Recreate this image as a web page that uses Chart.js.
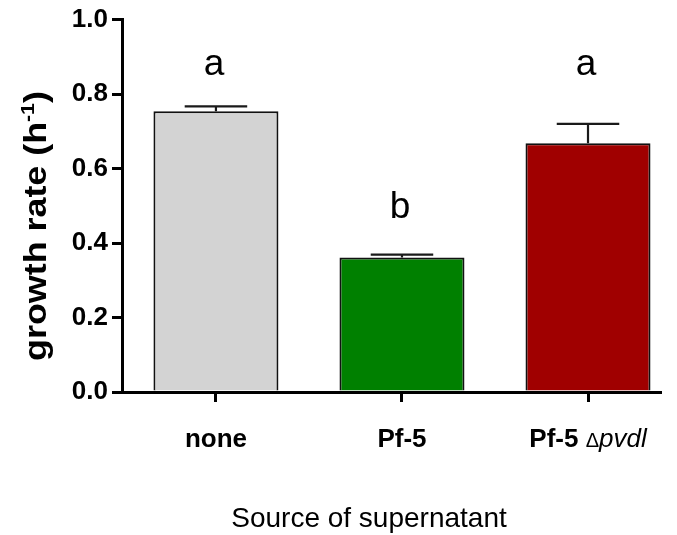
<!DOCTYPE html>
<html>
<head>
<meta charset="utf-8">
<script src="https://cdn.jsdelivr.net/npm/chart.js@4/dist/chart.umd.min.js"></script>
<style>
  html, body { margin: 0; padding: 0; background: #fff; }
  canvas { display: block; }
</style>
</head>
<body>
<canvas id="growthChart" width="677" height="535"></canvas>
<script>
var categories = ['none', 'Pf-5', 'Pf-5 \u0394pvdl'];
var growthRate = [0.754, 0.361, 0.668];
var growthErr = [0.013, 0.008, 0.052];
var sigLetters = ['a', 'b', 'a'];
var letterLevel = [0.85, 0.466, 0.85];
var yTicks = [0, 0.2, 0.4, 0.6, 0.8, 1.0];
var barColors = ['#d3d3d3', '#008000', '#a00000'];

var FONT = '"Liberation Sans", Arial, Helvetica, sans-serif';

// error bars, letters and the text that chart.js can't style (italic / superscript)
var extrasPlugin = {
	id: 'extras',
	afterDatasetsDraw: function(chart) {
		var ctx = chart.ctx, x = chart.scales.x, y = chart.scales.y;
		var meta = chart.getDatasetMeta(0);
		ctx.save();
		ctx.strokeStyle = '#1a1a1a';
		ctx.lineWidth = 2.2;
		meta.data.forEach(function(bar, i) {
			var top = y.getPixelForValue(growthRate[i]);
			var cap = y.getPixelForValue(growthRate[i] + growthErr[i]);
			var half = bar.width / 4;
			ctx.beginPath();
			ctx.moveTo(bar.x, top);
			ctx.lineTo(bar.x, cap);
			ctx.moveTo(bar.x - half, cap);
			ctx.lineTo(bar.x + half, cap);
			ctx.stroke();
		});

		ctx.fillStyle = '#000';
		ctx.textBaseline = 'alphabetic';
		ctx.textAlign = 'center';
		ctx.font = '37px ' + FONT;
		sigLetters.forEach(function(l, i) {
			ctx.fillText(l, x.getPixelForValue(i) - 2, y.getPixelForValue(letterLevel[i]));
		});

		// category labels
		var base = x.top + 55;
		categories.forEach(function(label, i) {
			var cx = x.getPixelForValue(i);
			var k = label.indexOf('\u0394');
			if (k < 0) {
				ctx.font = 'bold 26px ' + FONT;
				ctx.textAlign = 'center';
				ctx.fillText(label, cx, base);
				return;
			}
			var parts = [
				{ t: label.slice(0, k), f: 'bold 26px ' + FONT },
				{ t: '\u0394', f: '20px ' + FONT },
				{ t: label.slice(k + 1), f: 'italic 26px ' + FONT }
			];
			var total = 0;
			parts.forEach(function(p) { ctx.font = p.f; p.w = ctx.measureText(p.t).width; total += p.w; });
			var px = cx - total / 2;
			ctx.textAlign = 'left';
			parts.forEach(function(p) { ctx.font = p.f; ctx.fillText(p.t, px, base); px += p.w; });
		});

		// x title
		ctx.font = '28px ' + FONT;
		ctx.textAlign = 'center';
		ctx.fillText('Source of supernatant', 369, 527);

		// y title with superscript (slightly stretched along its length like the original)
		ctx.translate(46, 226);
		ctx.rotate(-Math.PI / 2);
		ctx.scale(1.12, 1);
		var pieces = [
			{ t: 'growth rate (h', f: 'bold 32px ' + FONT, dy: 0 },
			{ t: '-1', f: 'bold 19px ' + FONT, dy: -12 },
			{ t: ')', f: 'bold 32px ' + FONT, dy: 0 }
		];
		var tw = 0;
		pieces.forEach(function(p) { ctx.font = p.f; p.w = ctx.measureText(p.t).width; tw += p.w; });
		var sx = -tw / 2;
		ctx.textAlign = 'left';
		pieces.forEach(function(p) { ctx.font = p.f; ctx.fillText(p.t, sx, p.dy); sx += p.w; });
		ctx.restore();
	}
};

var ctx = document.getElementById('growthChart');
var config = {
	type: 'bar',
	data: {
		datasets: [{
			data: growthRate.map(function(v, i) { return { x: i, y: v }; }),
			backgroundColor: barColors,
			borderColor: '#111',
			borderWidth: 2,
			borderSkipped: 'start',
			categoryPercentage: 1,
			barPercentage: 0.672
		}]
	},
	options: {
		responsive: false,
		animation: false,
		devicePixelRatio: 1,
		layout: { padding: { top: 19, right: 17, left: 0, bottom: 0 } },
		plugins: { legend: { display: false }, tooltip: { enabled: false } },
		scales: {
			x: {
				type: 'linear',
				min: -0.505,
				max: 2.387,
				offset: false,
				afterFit: function(s) { s.height = 143; },
				afterBuildTicks: function(s) { s.ticks = [0, 1, 2].map(function(v) { return { value: v }; }); },
				ticks: { display: false },
				grid: { offset: false, drawOnChartArea: false, tickLength: 10, lineWidth: 3, color: '#000' },
				border: { width: 3, color: '#000' }
			},
			y: {
				min: 0,
				max: 1,
				afterFit: function(s) { s.width = 122; },
				afterBuildTicks: function(s) { s.ticks = yTicks.map(function(v) { return { value: v }; }); },
				ticks: {
					color: '#000',
					padding: 4,
					font: { family: FONT, size: 26, weight: 'bold' },
					callback: function(v) { return v.toFixed(1); }
				},
				grid: { drawOnChartArea: false, tickLength: 10, lineWidth: 3, color: '#000' },
				border: { width: 3, color: '#000' }
			}
		}
	},
	plugins: [extrasPlugin]
};
var myChart = new Chart(ctx, config);
</script>
</body>
</html>
